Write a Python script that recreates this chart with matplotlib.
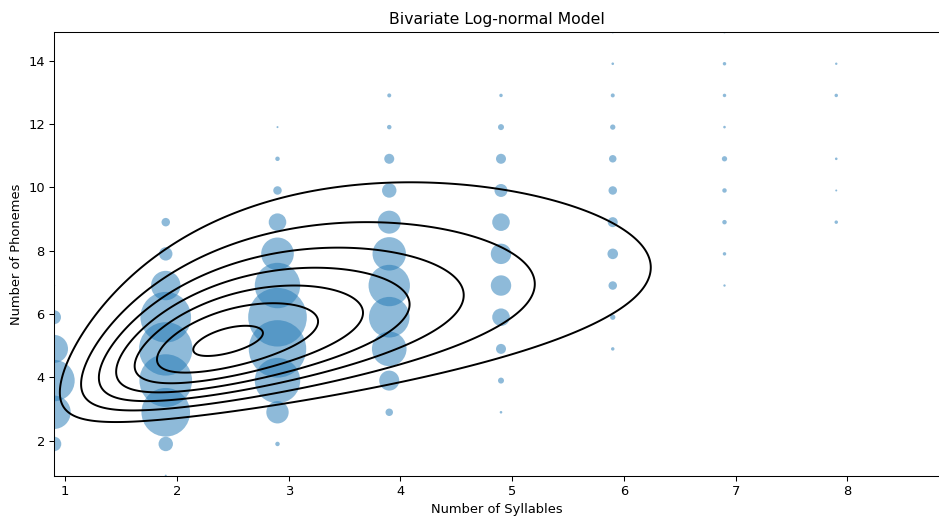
import numpy as np
import matplotlib
matplotlib.use("Agg")
import matplotlib.pyplot as plt

# --- Daten: Silben / Phoneme / Anzahl (Flaeche der Blasen) ---
silben = [1, 1, 1, 1, 1, 1, 1,
          2, 2, 2, 2, 2, 2, 2, 2, 2,
          3, 3, 3, 3, 3, 3, 3, 3, 3, 3, 3,
          4, 4, 4, 4, 4, 4, 4, 4, 4, 4, 4,
          5, 5, 5, 5, 5, 5, 5, 5, 5, 5, 5,
          6, 6, 6, 6, 6, 6, 6, 6, 6, 6, 6,
          7, 7, 7, 7, 7, 7, 7, 7, 7,
          8, 8, 8, 8, 8]
phoneme = [7, 6, 5, 4, 3, 2, 1,
           9, 8, 7, 6, 5, 4, 3, 2, 1,
           12, 11, 10, 9, 8, 7, 6, 5, 4, 3, 2,
           13, 12, 11, 10, 9, 8, 7, 6, 5, 4, 3,
           13, 12, 11, 10, 9, 8, 7, 6, 5, 4, 3,
           15, 14, 13, 12, 11, 10, 9, 8, 7, 6, 5,
           15, 14, 13, 12, 11, 10, 9, 8, 7,
           14, 13, 11, 10, 9]
anzahl = [1.4, 49, 196, 428, 279, 53, 1.4,
          18, 45, 216, 640, 713, 692, 590, 52, 1,
          1, 5, 18, 77, 266, 515, 858, 824, 515, 125, 5,
          4, 5, 25, 52, 132, 279, 428, 412, 299, 100, 14,
          3, 9, 25, 42, 77, 104, 104, 77, 25, 9, 1.7,
          1.7, 1.7, 4, 7, 14, 18, 25, 28, 18, 7, 3,
          1.7, 3, 3, 1.7, 7, 5, 5, 3, 1.4,
          1.4, 3, 1.7, 1, 3]

# --- Modellparameter (log-Raum) ---
mu_log_silben = 1.203
mu_log_phoneme = 1.842
sigma_log_silben = 0.472
sigma_log_phoneme = 0.343
rho = 0.55

VERSATZ = -0.1
GROESSE = 2.35

# --- Dichte des bivariaten Log-Normal-Modells ---
xs = np.linspace(0.5, 9.5, 500)
ys = np.linspace(0.5, 16, 500)
X, Y = np.meshgrid(xs, ys)
U = (np.log(X) - mu_log_silben) / sigma_log_silben
V = (np.log(Y) - mu_log_phoneme) / sigma_log_phoneme
Q = (U**2 - 2 * rho * U * V + V**2) / (1 - rho**2)
Z = np.exp(-Q / 2) / (2 * np.pi * sigma_log_silben * sigma_log_phoneme
                      * np.sqrt(1 - rho**2) * X * Y)

# --- Plot ---
fig = plt.figure(figsize=(9.99, 5.5), dpi=94)
ax = fig.add_axes([0.0575, 0.080, 0.9425, 0.858])

ax.scatter(np.array(silben) + VERSATZ, np.array(phoneme) + VERSATZ,
           s=np.array(anzahl) * GROESSE, alpha=0.5, color="C0", linewidths=0)
ax.contour(X, Y, Z, colors="k")

ax.set_xlim(0.9, 8.82)
ax.set_ylim(0.9, 14.9)
ax.spines["right"].set_visible(False)
ax.set_title("Bivariate Log-normal Model")
ax.set_xlabel("Number of Syllables")
ax.set_ylabel("Number of Phonemes")

fig.savefig("out.png", dpi=94)
